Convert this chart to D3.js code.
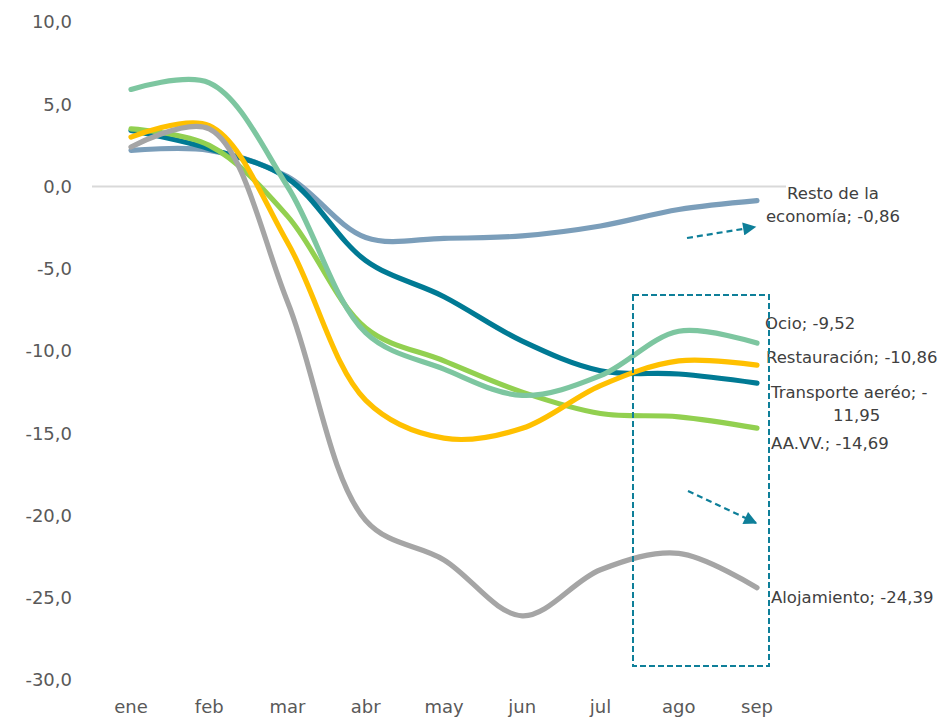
<!DOCTYPE html>
<html><head><meta charset="utf-8">
<script src="https://cdn.jsdelivr.net/npm/d3@7"></script>
<style>body{margin:0;background:#fff}svg{display:block}</style>
</head><body>
<svg id="c" width="950" height="718"></svg>
<script>
const months = ["ene","feb","mar","abr","may","jun","jul","ago","sep"];
const yTicks = [10,5,0,-5,-10,-15,-20,-25,-30];
const seriesNames = ["Resto de la economía","Transporte aeréo","AA.VV.","Restauración","Ocio","Alojamiento"];
const resto = [2.2, 2.2, 0.6, -3.1, -3.15, -3.0, -2.4, -1.4, -0.86];
const transporte = [3.4, 2.3, 0.5, -4.5, -6.7, -9.4, -11.2, -11.4, -11.95];
const aavv = [3.5, 2.5, -1.8, -8.6, -10.6, -12.5, -13.8, -14.0, -14.69];
const restauracion = [3.0, 3.7, -3.4, -13.0, -15.3, -14.7, -12.1, -10.6, -10.86];
const ocio = [5.9, 6.3, 0.0, -8.9, -11.1, -12.7, -11.5, -8.8, -9.52];
const alojamiento = [2.4, 3.5, -7.0, -20.3, -22.7, -26.1, -23.3, -22.3, -24.39];
const colors = ["#7B9EBA","#007A94","#92D050","#FFC000","#7DC6A0","#A5A5A5"];
const labels = [
  {lines:["Resto de la","economía; -0,86"], anchor:"middle", dx:76, dy:[-7,16]},
  {lines:["Transporte aeréo; -","11,95"], anchor:"start", dx:14, dy:[9,32], dx2:[0,62]},
  {lines:["AA.VV.; -14,69"], anchor:"start", dx:14, dy:[15]},
  {lines:["Restauración; -10,86"], anchor:"start", dx:9, dy:[-8]},
  {lines:["Ocio; -9,52"], anchor:"start", dx:8, dy:[-20]},
  {lines:["Alojamiento; -24,39"], anchor:"start", dx:14, dy:[10]}
];
const data = [resto, transporte, aavv, restauracion, ocio, alojamiento];

const svg = d3.select("#c");
const font = "'DejaVu Sans', sans-serif";
const x = d3.scalePoint().domain(months).range([131,757]);
const y = d3.scaleLinear().domain([-30,10]).range([680,22]);

svg.append("g").selectAll("text").data(yTicks).join("text")
  .attr("x",72).attr("y",d=>y(d)).attr("dy","0.35em")
  .attr("text-anchor","end").attr("font-family",font).attr("font-size",18)
  .attr("fill","#595959").text(d=>d3.format(".1f")(d).replace(".",",").replace("−","-"));
svg.append("g").selectAll("text").data(months).join("text")
  .attr("x",d=>x(d)).attr("y",707).attr("dy","0.35em")
  .attr("text-anchor","middle").attr("font-family",font).attr("font-size",18)
  .attr("fill","#595959").text(d=>d);
svg.append("line").attr("x1",92).attr("x2",786).attr("y1",y(0)).attr("y2",y(0))
  .attr("stroke","#D9D9D9").attr("stroke-width",2);

const line = d3.line().x((d,i)=>x(months[i])).y(d=>y(d)).curve(d3.curveCatmullRom.alpha(0.5));
svg.append("g").selectAll("path").data(data).join("path")
  .attr("d",line).attr("fill","none").attr("stroke",(d,i)=>colors[i])
  .attr("stroke-width",5.2).attr("stroke-linecap","round").attr("stroke-linejoin","round");

data.forEach((s,i)=>{
  const L = labels[i];
  const px = x(months[8]), py = y(s[8]);
  L.lines.forEach((t,k)=>{
    svg.append("text").attr("x",px+L.dx+(L.dx2?L.dx2[k]:0)).attr("y",py+L.dy[k]).attr("dy","0.35em")
      .attr("text-anchor",L.anchor).attr("font-family",font).attr("font-size",16.5)
      .attr("fill","#404040").text(t);
  });
});

const ac = "#0E7F99";
svg.append("rect").attr("x",633).attr("y",295).attr("width",136).attr("height",371)
  .attr("fill","none").attr("stroke",ac).attr("stroke-width",2).attr("stroke-dasharray","6,3");
const defs = svg.append("defs");
defs.append("marker").attr("id","ah").attr("viewBox","0 0 10 10").attr("refX",9).attr("refY",5)
  .attr("markerWidth",6.5).attr("markerHeight",6).attr("orient","auto").attr("markerUnits","strokeWidth")
  .append("path").attr("d","M0,0L10,5L0,10Z").attr("fill",ac);
[[687,238,755,227],[688,491,756,523]].forEach(a=>{
  svg.append("line").attr("x1",a[0]).attr("y1",a[1]).attr("x2",a[2]).attr("y2",a[3])
    .attr("stroke",ac).attr("stroke-width",2.2).attr("stroke-dasharray","6,4")
    .attr("marker-end","url(#ah)");
});
</script>
</body></html>
